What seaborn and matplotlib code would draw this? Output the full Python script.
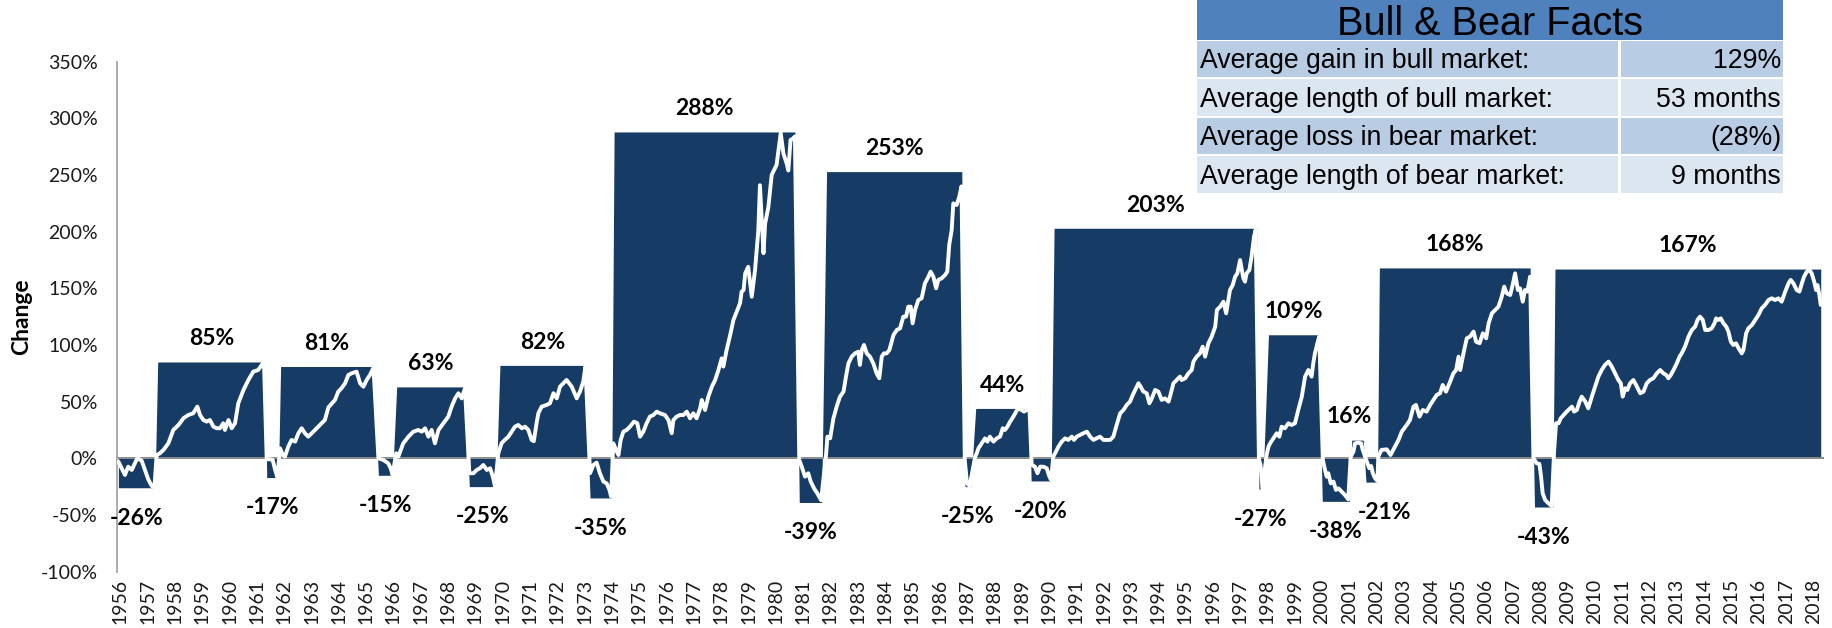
import matplotlib
matplotlib.use("Agg")
import pandas as pd
import matplotlib.pyplot as plt
from matplotlib.patches import Rectangle
import seaborn as sns

# Bull / bear market cycles (total change in %, start / end as decimal years)
market_change = [-26, 85, -17, 81, -15, 63, -25, 82, -35, 288, -39, 253,
                 -25, 44, -20, 203, -27, 109, -38, 16, -21, 168, -43, 167]
market_start = [1955.93, 1957.37, 1961.36, 1961.87, 1965.45, 1966.12, 1968.78, 1969.90,
                1973.20, 1974.08, 1980.86, 1981.86, 1986.93, 1987.32, 1989.35, 1990.19,
                1997.69, 1998.04, 2000.01, 2001.09, 2001.61, 2002.10, 2007.78, 2008.53]
market_end = [1957.27, 1961.30, 1961.79, 1965.27, 1965.97, 1968.62, 1969.76, 1973.02,
              1973.99, 1980.70, 1981.68, 1986.81, 1987.14, 1989.29, 1990.08, 1997.61,
              1997.83, 1999.87, 2001.00, 2001.51, 2002.03, 2007.62, 2008.45, 2018.26]

# Cumulative change inside each cycle (white line)
line_year = [
    # bear -26%
    1955.93, 1956.17, 1956.29, 1956.42, 1956.62, 1956.78, 1956.90, 1957.03, 1957.15, 1957.25,
    # bull 85%
    1957.33, 1957.45, 1957.58, 1957.76, 1957.94, 1958.13, 1958.31, 1958.49, 1958.67, 1958.82,
    1958.92, 1959.04, 1959.16, 1959.28, 1959.41, 1959.53, 1959.65, 1959.77, 1959.83, 1959.96,
    1960.08, 1960.20, 1960.32, 1960.51, 1960.69, 1960.87, 1961.05, 1961.18, 1961.26,
    # bear -17%
    1961.36, 1961.48, 1961.58, 1961.67, 1961.75,
    # bull 81%
    1961.85, 1961.95, 1962.03, 1962.15, 1962.27, 1962.40, 1962.52, 1962.64, 1962.76, 1962.88,
    1963.01, 1963.19, 1963.37, 1963.49, 1963.62, 1963.86, 1963.98, 1964.10, 1964.23, 1964.35,
    1964.47, 1964.65, 1964.78, 1964.90, 1965.02, 1965.14, 1965.27,
    # bear -15%
    1965.45, 1965.63, 1965.81, 1965.90, 1965.97,
    # bull 63%
    1966.10, 1966.18, 1966.36, 1966.55, 1966.73, 1966.91, 1967.04, 1967.16, 1967.28, 1967.40,
    1967.52, 1967.65, 1967.83, 1968.01, 1968.13, 1968.26, 1968.38, 1968.50, 1968.62,
    # bear -25%
    1968.78, 1968.93, 1969.05, 1969.17, 1969.29, 1969.42, 1969.54, 1969.64, 1969.72,
    # bull 82%
    1969.84, 1969.96, 1970.08, 1970.21, 1970.33, 1970.45, 1970.57, 1970.70, 1970.82, 1970.94,
    1971.06, 1971.14, 1971.24, 1971.31, 1971.43, 1971.61, 1971.73, 1971.86, 1971.98, 1972.10,
    1972.22, 1972.34, 1972.53, 1972.71, 1972.83, 1972.95, 1973.03,
    # bear -35%
    1973.20, 1973.32, 1973.44, 1973.56, 1973.69, 1973.81, 1973.91, 1973.97,
    # bull 288%
    1974.05, 1974.15, 1974.24, 1974.32, 1974.42, 1974.54, 1974.66, 1974.81, 1974.93, 1975.03,
    1975.15, 1975.27, 1975.39, 1975.52, 1975.64, 1975.76, 1975.94, 1976.07, 1976.19, 1976.25,
    1976.37, 1976.49, 1976.62, 1976.74, 1976.86, 1976.98, 1977.10, 1977.23, 1977.29, 1977.41,
    1977.53, 1977.66, 1977.78, 1977.90, 1978.02, 1978.08, 1978.20, 1978.33, 1978.45, 1978.57,
    1978.69, 1978.75, 1978.82, 1978.88, 1978.99, 1979.12, 1979.24, 1979.36, 1979.42, 1979.55,
    1979.61, 1979.73, 1979.85, 1979.97, 1980.03, 1980.13, 1980.18, 1980.28, 1980.40, 1980.46,
    1980.54, 1980.62, 1980.70,
    # bear -39%
    1980.86, 1980.95, 1981.07, 1981.19, 1981.28, 1981.40, 1981.52, 1981.66,
    # bull 253%
    1981.84, 1981.89, 1981.99, 1982.11, 1982.23, 1982.35, 1982.48, 1982.57, 1982.66, 1982.78,
    1982.90, 1983.02, 1983.08, 1983.15, 1983.23, 1983.33, 1983.45, 1983.57, 1983.69, 1983.79,
    1983.88, 1983.96, 1984.06, 1984.16, 1984.31, 1984.43, 1984.55, 1984.67, 1984.77, 1984.85,
    1984.94, 1985.01, 1985.10, 1985.22, 1985.34, 1985.46, 1985.59, 1985.67, 1985.77, 1985.87,
    1985.95, 1986.07, 1986.20, 1986.28, 1986.35, 1986.44, 1986.50, 1986.62, 1986.72, 1986.80,
    # bear -25%
    1986.92, 1987.00, 1987.10,
    # bull 44%
    1987.30, 1987.36, 1987.42, 1987.54, 1987.66, 1987.75, 1987.84, 1987.97, 1988.09, 1988.21,
    1988.31, 1988.39, 1988.48, 1988.58, 1988.70, 1988.80, 1988.88, 1989.00, 1989.09, 1989.19,
    1989.29,
    # bear -20%
    1989.37, 1989.49, 1989.58, 1989.68, 1989.80, 1989.92, 1990.02, 1990.08,
    # bull 203%
    1990.16, 1990.26, 1990.35, 1990.47, 1990.59, 1990.71, 1990.84, 1990.92, 1991.02, 1991.14,
    1991.26, 1991.39, 1991.51, 1991.63, 1991.75, 1991.87, 1992.00, 1992.12, 1992.24, 1992.36,
    1992.48, 1992.61, 1992.73, 1992.85, 1992.97, 1993.07, 1993.16, 1993.28, 1993.36, 1993.46,
    1993.58, 1993.68, 1993.77, 1993.89, 1994.01, 1994.13, 1994.25, 1994.38, 1994.44, 1994.56,
    1994.68, 1994.80, 1994.86, 1994.99, 1995.11, 1995.23, 1995.29, 1995.41, 1995.53, 1995.63,
    1995.72, 1995.84, 1995.96, 1996.09, 1996.15, 1996.27, 1996.39, 1996.49, 1996.57, 1996.63,
    1996.73, 1996.82, 1996.90, 1997.00, 1997.12, 1997.18, 1997.24, 1997.34, 1997.42, 1997.51,
    1997.57,
    # bear -27%
    1997.69, 1997.75, 1997.82,
    # bull 109%
    1997.97, 1998.04, 1998.10, 1998.22, 1998.34, 1998.44, 1998.52, 1998.64, 1998.77, 1998.89,
    1999.01, 1999.13, 1999.26, 1999.38, 1999.50, 1999.56, 1999.62, 1999.68, 1999.74, 1999.83,
    1999.90,
    # bear -38%
    2000.03, 2000.11, 2000.17, 2000.23, 2000.32, 2000.42, 2000.51, 2000.60, 2000.72, 2000.84,
    2000.96,
    # bull 16%
    2001.05, 2001.15, 2001.21, 2001.33, 2001.43, 2001.49,
    # bear -21%
    2001.61, 2001.73, 2001.80, 2001.86, 2001.94, 2002.03,
    # bull 168%
    2002.06, 2002.18, 2002.37, 2002.51, 2002.67, 2002.80, 2002.92, 2003.10, 2003.22, 2003.35,
    2003.44, 2003.57, 2003.69, 2003.83, 2003.96, 2004.08, 2004.20, 2004.32, 2004.42, 2004.54,
    2004.69, 2004.81, 2004.91, 2005.00, 2005.06, 2005.18, 2005.30, 2005.42, 2005.55, 2005.64,
    2005.77, 2005.89, 2006.01, 2006.10, 2006.22, 2006.34, 2006.46, 2006.58, 2006.67, 2006.76,
    2006.89, 2006.98, 2007.07, 2007.17, 2007.25, 2007.35, 2007.43, 2007.52, 2007.62,
    # bear -43%
    2007.74, 2007.86, 2007.96, 2008.02, 2008.08, 2008.17, 2008.29, 2008.41,
    # bull 167%
    2008.50, 2008.57, 2008.66, 2008.74, 2008.96, 2009.15, 2009.23, 2009.33, 2009.43, 2009.51,
    2009.64, 2009.75, 2009.88, 2010.00, 2010.12, 2010.24, 2010.36, 2010.49, 2010.61, 2010.73,
    2010.85, 2010.94, 2011.01, 2011.10, 2011.18, 2011.28, 2011.40, 2011.50, 2011.65, 2011.77,
    2011.89, 2012.01, 2012.13, 2012.26, 2012.38, 2012.50, 2012.60, 2012.68, 2012.77, 2012.87,
    2012.99, 2013.09, 2013.17, 2013.29, 2013.42, 2013.54, 2013.66, 2013.75, 2013.84, 2013.94,
    2014.03, 2014.15, 2014.27, 2014.37, 2014.43, 2014.51, 2014.60, 2014.70, 2014.80, 2014.88,
    2014.97, 2015.06, 2015.16, 2015.25, 2015.37, 2015.43, 2015.53, 2015.61, 2015.74, 2015.86,
    2015.98, 2016.10, 2016.22, 2016.35, 2016.47, 2016.59, 2016.71, 2016.83, 2016.96, 2017.08,
    2017.16, 2017.26, 2017.38, 2017.48, 2017.57, 2017.65, 2017.75, 2017.85, 2017.93, 2018.02,
    2018.09, 2018.14, 2018.21, 2018.26,
]
line_change = [
    # bear -26%
    -2.9, -14.7, -7.4, -10.3, 0, -2, -10.3, -19, -24.4, -25.6,
    # bull 85%
    2.9, 4.4, 7.4, 13.2, 25, 29.4, 35.3, 38.2, 39.7, 45.6,
    38.2, 33.8, 32.4, 33.8, 27.9, 26.5, 26.5, 30.9, 25, 33.8,
    26.5, 30.9, 48.5, 60.3, 69.1, 76.5, 77.9, 82.4, 85.3,
    # bear -17%
    -0.9, -0.9, -1.5, -10.3, -16.5,
    # bull 81%
    8.8, 2.9, 1.5, 10.3, 16.2, 14.7, 22.1, 26.5, 22.1, 19.1,
    22.1, 26.5, 30.9, 33.8, 45, 51.5, 58.8, 61.8, 66.2, 73.5,
    75, 76.5, 66.2, 63.2, 69.1, 73.5, 80,
    # bear -15%
    0, -1.5, -4.4, -8.8, -14.7,
    # bull 63%
    4.4, 1.5, 13.2, 19.1, 23.5, 25, 23.5, 26.5, 19.1, 25,
    13.2, 25, 30.9, 36.8, 45.6, 52.9, 57.4, 52.9, 61.8,
    # bear -25%
    -13.2, -13.2, -10.3, -8.8, -5.9, -10.3, -8.8, -16.2, -25,
    # bull 82%
    4.4, 13.2, 16.2, 19.1, 23.5, 27.9, 29.4, 26.5, 27.9, 25,
    16.2, 15, 30.9, 40, 45.6, 47.1, 48.5, 57.4, 52.9, 63.2,
    66.2, 69.1, 63.2, 52.9, 58.8, 67.6, 80.9,
    # bear -35%
    -13.2, -5.9, -3.8, -13.2, -20.6, -22.1, -27.9, -33.8,
    # bull 288%
    13.2, 7.4, 2.9, 16.2, 23.5, 25, 27.9, 32.4, 30.9, 19.1,
    23.5, 30.9, 36.8, 38.2, 41.2, 39.7, 38.2, 33.8, 22.1, 33.8,
    36.8, 38.2, 38.2, 41.2, 35.3, 39.7, 35.3, 44.1, 51.5, 42.6,
    54.4, 63.2, 69.1, 77.9, 88.2, 80.9, 95.6, 108.8, 122.1, 129.4,
    136.8, 147.1, 148.5, 163.2, 169, 142.6, 166, 201, 241, 181,
    207, 222, 250, 256, 259, 278, 287, 269, 260, 254,
    281, 282, 284,
    # bear -39%
    -1.5, -7.4, -16.2, -13.2, -20.6, -26.5, -30.9, -37,
    # bull 253%
    2.9, 19.1, 17.6, 35.3, 45.6, 54.4, 58.8, 72.1, 83.8, 89.7,
    92.6, 94.1, 82.4, 95.6, 100, 92.6, 89.7, 83.8, 75, 70.6,
    89.7, 92.6, 92.6, 95.6, 108.8, 113.2, 114.7, 125, 125, 133.8,
    133.8, 119.1, 130.9, 139.7, 141.2, 154.4, 160.3, 164.7, 160.3, 150,
    157.4, 158.8, 161.8, 164.7, 188.2, 201.5, 225, 223.5, 230.9, 240,
    # bear -25%
    -1.5, -22, -24.5,
    # bull 44%
    1.5, 4.4, 8.8, 13.2, 17.6, 14.7, 19.1, 14.7, 17.6, 19.1,
    26.5, 25, 27.9, 32.4, 36.8, 41.2, 44.1, 42.6, 41.2, 42.6,
    43.2,
    # bear -20%
    -5.9, -7.4, -13.2, -7.4, -7.4, -8.8, -16.2, -19.1,
    # bull 203%
    1.5, 5.9, 10.3, 14.7, 17.6, 16.2, 19.1, 16.2, 19.1, 20.6,
    22.1, 23.5, 19.1, 16.2, 17.6, 19.1, 16.2, 16.2, 16.2, 19.1,
    29.4, 39.7, 42.6, 47.1, 50, 55.9, 60.3, 66.2, 63.2, 58.8,
    57.4, 48.5, 52.9, 60.3, 58.8, 51.5, 52.9, 50, 55, 66.2,
    69.1, 72.1, 69.1, 70.6, 75, 77.9, 85.3, 89.7, 92.6, 98.5,
    89.7, 101.5, 107.4, 116.2, 130.9, 133.8, 138.2, 127.9, 139.7, 148.5,
    152.9, 160.3, 163.2, 175, 158.8, 155.9, 163.2, 166.2, 177.9, 195.6,
    201.5,
    # bear -27%
    -0.9, -5.9, -26.5,
    # bull 109%
    2.9, 10.3, 13.2, 17.6, 22.1, 19.1, 27.9, 26.5, 30.9, 29.4,
    30.9, 42.6, 54.4, 72.1, 77.9, 75, 72.1, 83.8, 92.6, 101.5,
    107.4,
    # bear -38%
    -1.5, -10.3, -16.2, -13.2, -22.1, -20.6, -27.9, -26.5, -29.4, -32.4,
    -36.2,
    # bull 16%
    1.5, 5.9, 13.2, 13.8, 13.2, 7.4,
    # bear -21%
    -0.9, -8.8, -6.8, -13.2, -17.6, -20,
    # bull 168%
    1.5, 7.4, 7.9, 2.9, 10.3, 16.2, 23.5, 29.4, 33.8, 45.6,
    47.1, 36.8, 42.6, 41.2, 47.1, 51.5, 55.9, 57.4, 64.7, 58.8,
    67.6, 75, 77.9, 89.7, 77.9, 92.6, 105.9, 107.4, 111.8, 102.9,
    101.5, 110.3, 105.9, 119.1, 127.9, 130.9, 133.8, 142.6, 151.5, 145.6,
    144.1, 152.9, 163.2, 148.5, 150, 138.2, 148.5, 147.1, 160.3,
    # bear -43%
    0, -4.4, -5, -16.2, -30.9, -36.8, -39.7, -42.1,
    # bull 167%
    7.4, 30.9, 30.9, 35.3, 41.2, 45.6, 41.2, 42.6, 50, 54.4,
    50, 44.1, 54.4, 63.2, 72.1, 77.9, 82.4, 85.3, 80.9, 75,
    69.1, 66.2, 54.4, 61.8, 60.3, 66.2, 69.1, 64.7, 57.4, 58.8,
    66.2, 69.1, 70.6, 75, 77.9, 75, 73.5, 70.6, 73.5, 77.9,
    83.8, 89.7, 92.6, 98.5, 107.4, 113.2, 116.2, 122.1, 125, 122.1,
    113.2, 113.2, 114.7, 119.1, 123.5, 122.1, 123.5, 119.1, 116.2, 111.8,
    102.9, 100, 101.5, 97.1, 92.6, 95.6, 110.3, 114.7, 117.6, 122.1,
    126.5, 132.4, 135.3, 139.7, 141.2, 139.7, 141.2, 138.2, 147.1, 154.4,
    157.4, 154.4, 148.5, 147.1, 154.4, 160.3, 164.7, 166.2, 163.2, 155.9,
    148.5, 152.9, 144.1, 135.3,
]

tick_years = list(range(1956, 2019))
y_ticks = [-100, -50, 0, 50, 100, 150, 200, 250, 300, 350]

facts_title = "Bull & Bear Facts"
facts_rows = ["Average gain in bull market:", "Average length of bull market:",
              "Average loss in bear market:", "Average length of bear market:"]
facts_values = ["129%", "53 months", "(28%)", "9 months"]

# ---- style ----
NAVY = "#163B64"
W, H = 1832, 628

sns.set_theme(style="white")
plt.rcParams["font.family"] = ["Lato", "DejaVu Sans"]

fig = plt.figure(figsize=(W / 100, H / 100), dpi=100)
ax = fig.add_axes([117.3 / W, (H - 571.6) / H, (1824 - 117.3) / W, (571.6 - 61.7) / H])

# navy blocks: one flat level per cycle
area_x, area_y = [], []
for s, e, v in zip(market_start, market_end, market_change):
    area_x += [s, e]
    area_y += [v, v]
ax.fill_between(area_x, 0, area_y, color=NAVY, linewidth=0, zorder=1)

ax.axhline(0, color="#8c8c8c", lw=1.4, zorder=2)

df = pd.DataFrame({"year": line_year, "change": line_change})
sns.lineplot(data=df, x="year", y="change", color="white", lw=2.8,
             sort=False, estimator=None, ax=ax, zorder=3)

# value labels above bulls / below bears
label_nudge = {16: -0.3, -21: 0.45}
for s, e, v in zip(market_start, market_end, market_change):
    cx = (s + e) / 2 + label_nudge.get(v, 0)
    off = 12 if v > 0 else -26.5
    ax.annotate(f"{v}%", (cx, v), xytext=(0, off), textcoords="offset points",
                ha="center", va="baseline", fontsize=16.5, fontweight="bold",
                color="black", zorder=4)

ax.set_xlim(1955.89, 2018.38)
ax.set_ylim(-100, 350)
ax.set_xticks(tick_years)
ax.set_xticklabels([str(y) for y in tick_years], rotation=90)
ax.set_yticks(y_ticks)
ax.set_yticklabels([f"{t}%" for t in y_ticks])
ax.tick_params(axis="x", length=0, pad=5, labelsize=14, colors="#1a1a1a")
ax.tick_params(axis="y", length=0, pad=14, labelsize=14, colors="#1a1a1a")
ax.set_xlabel("")
ax.set_ylabel("Change", fontsize=16.5, fontweight="bold", color="black")
ax.yaxis.set_label_coords(-0.05, 0.5)

for side in ["top", "right", "bottom"]:
    ax.spines[side].set_visible(False)
ax.spines["left"].set_color("#a6a6a6")
ax.spines["left"].set_linewidth(1.3)


# ---- facts table (figure pixel coordinates) ----
def box(x0, y0, x1, y1, color):
    fig.add_artist(Rectangle((x0 / W, 1 - y1 / H), (x1 - x0) / W, (y1 - y0) / H,
                             transform=fig.transFigure, facecolor=color,
                             edgecolor="none", zorder=5))


tab_left, tab_right, col_split = 1197, 1783, 1619
box(tab_left, 0, tab_right, 39.5, "#4F81BD")
fig.text((tab_left + tab_right) / 2 / W, 1 - 35 / H, facts_title, ha="center",
         va="baseline", fontsize=28.5, family="Liberation Sans", color="black", zorder=6)

row_colors = ["#B8CCE4", "#DCE6F1"]
for i, (lab, val) in enumerate(zip(facts_rows, facts_values)):
    top = 40.7 + i * 38.5
    bot = top + 36.3
    c = row_colors[i % 2]
    box(tab_left, top, col_split - 1, bot, c)
    box(col_split + 1.5, top, tab_right, bot, c)
    base = (top + bot) / 2 + 9.5
    fig.text(1200 / W, 1 - base / H, lab, ha="left", va="baseline", fontsize=19.2,
             family="Liberation Sans", color="black", zorder=6)
    fig.text(1781 / W, 1 - base / H, val, ha="right", va="baseline", fontsize=19.2,
             family="Liberation Sans", color="black", zorder=6)

fig.savefig("out.png", dpi=100)
